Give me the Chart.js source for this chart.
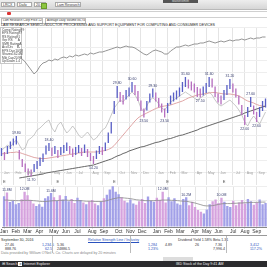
<!DOCTYPE html>
<html>
<head>
<meta charset="utf-8">
<script src="https://cdn.jsdelivr.net/npm/chart.js@4.4.0/dist/chart.umd.min.js"></script>
<style>
    body { margin: 0; width: 267px; height: 267px; overflow: hidden; background: #fff; position: relative; font-family: "Liberation Sans", Arial, sans-serif; }
    .abs { position: absolute; white-space: nowrap; }
    #barra { left: 0; top: 0; width: 267px; height: 9px; background: linear-gradient(#eeeeee, #d6d6d6); border-bottom: 1px solid #b9b9b9; }
    .caja { position: absolute; top: 2px; height: 5px; background: #fff; border: 1px solid #aaa; font-size: 3.5px; line-height: 5px; color: #333; padding-left: 1px; box-sizing: border-box; overflow: hidden; }
    .linea { position: absolute; left: 0; width: 267px; height: 1px; background: #d0d0d0; }
    .txt { font-size: 4px; line-height: 4px; color: #222; }
    .pestana { border: 1px solid #bbb; padding: 0 1px; font-size: 3px; line-height: 3.6px; color: #333; overflow: hidden; }
    #datos { left: 0; top: 27px; width: 22px; height: 37px; background: #fff; border: 1px solid #c8c8c8; box-sizing: border-box; font-size: 3.2px; line-height: 3.5px; color: #444; padding: 0.5px 1px; }
    #datos div { display: flex; justify-content: space-between; }
    canvas { position: absolute; left: 0; }
    #tabla { left: 0; top: 235px; width: 267px; height: 19px; border-top: 1px solid #999; font-size: 3.6px; color: #333; }
    .azul { color: #2a52be; }
    #tareas { left: 0; top: 261px; width: 267px; height: 6px; background: #2b2b2e; color: #eee; font-size: 3.6px; line-height: 6px; }
</style>
</head>
<body>

<!-- barra de herramientas -->
<div id="barra" class="abs">
    <span class="caja" style="left:1px;width:14px">LRCX</span>
    <span class="caja" style="left:17px;width:15px">Daily</span>
    <span class="caja" style="left:34px;width:12px">20 min</span>
    <span class="abs" style="left:41px;top:3px;width:4px;height:4px;background:#8cc63f;border:1px solid #6a9a2c"></span>
    <span class="caja" style="left:55px;width:26px">Lam Research ▾</span>
    <span class="abs" style="left:163px;top:0;width:35px;height:3px;background:#555;color:#ddd;font-size:3px;line-height:3px;text-align:center">MarketSmith</span>
</div>
<div class="linea" style="top:11px"></div>
<div class="linea" style="top:17px"></div>
<span class="abs" style="left:7px;top:12px;width:4px;height:3px;background:#d33;border-radius:1px"></span>
<span class="abs pestana" style="left:1px;top:18px;width:38px">Lam Research Corp  Price 128.51 Vol 3.1M</span>
<span class="abs pestana" style="left:45px;top:18px;width:37px">Average Daily Volume 86,706,728</span>
<span class="abs txt" style="left:1px;top:23px;font-size:3.6px">LAM RESEARCH  SEMICONDUCTOR PROCESSING AND SUPPORT EQUIPMENT FOR COMPUTING AND CONSUMER DEVICES</span>

<canvas id="graficoPrecio" width="267" height="158" style="top:27px"></canvas>
<canvas id="graficoVolumen" width="267" height="49" style="top:186px"></canvas>

<!-- recuadro de datos -->
<div id="datos" class="abs">
    <div><span>Comp Rating</span><span>99</span></div>
    <div><span>EPS Rating</span><span>97</span></div>
    <div><span>RS Rating</span><span>91</span></div>
    <div><span>Grp RS</span><span>A</span></div>
    <div><span>SMR Rating</span><span>A</span></div>
    <div><span>Acc/Dis</span><span>B-</span></div>
    <div><span>EPS Due</span><span>10/18</span></div>
    <div><span>Shares</span><span>162.4M</span></div>
    <div><span>Mkt Cap</span><span>20.9B</span></div>
    <div><span>Up/Down</span><span>1.4</span></div>
</div>

<!-- tabla inferior -->
<div id="tabla" class="abs">
    <span class="abs" style="left:1px;top:2px">September 30, 2016</span>
    <span class="abs azul" style="left:88px;top:2px;text-decoration:underline">Relative Strength Line / Industry</span>
    <span class="abs" style="left:178px;top:2px">Dividend Yield 1.58%  Beta 1.31</span>
    <span class="abs" style="left:5px;top:7px">27.46</span>
    <span class="abs azul" style="left:42px;top:7px">1,234.5</span>
    <span class="abs" style="left:57px;top:7px">5.36</span>
    <span class="abs azul" style="left:148px;top:7px">1,284</span>
    <span class="abs" style="left:165px;top:7px">4.89</span>
    <span class="abs" style="left:195px;top:7px">26</span>
    <span class="abs" style="left:215px;top:7px">7.36</span>
    <span class="abs azul" style="left:250px;top:7px">3,412</span>
    <span class="abs" style="left:5px;top:11px">888.76</span>
    <span class="abs azul" style="left:45px;top:11px">62.5</span>
    <span class="abs" style="left:57px;top:11px">24886.5</span>
    <span class="abs azul" style="left:148px;top:11px">1.23%</span>
    <span class="abs" style="left:213px;top:11px">7,996.4</span>
    <span class="abs azul" style="left:250px;top:11px">117.2%</span>
    <span class="abs" style="left:52px;top:0;width:1px;height:17px;background:#bbb"></span>
    <span class="abs" style="left:130px;top:0;width:1px;height:17px;background:#bbb"></span>
    <span class="abs" style="left:226px;top:0;width:1px;height:17px;background:#bbb"></span>
    <span class="abs" style="left:1px;top:15px;color:#888">Data provided by William O'Neil + Co. Charts are delayed by 20 minutes</span>
</div>
<span class="abs" style="left:163px;top:257px;width:30px;height:4px;background:#ddd"></span>
<div id="tareas" class="abs">
    <span style="padding-left:2px">⊞ Search</span>
    <span style="background:#fff;color:#222;padding:0 1px">e</span>
    <span>Internet Explorer</span>
    <span style="position:absolute;left:176px">IBD Stock of the Day  9:41 AM</span>
</div>

<script>
// =========================
// DATOS
// =========================
const fechas = [
    '1/8','1/15','1/22','1/29','2/5','2/12','2/19','2/26','3/4','3/11','3/18','3/25',
    '4/1','4/8','4/15','4/22','4/29','5/6','5/13','5/20','5/27','6/3','6/10','6/17','6/24',
    '7/1','7/8','7/15','7/22','7/29','8/5','8/12','8/19','8/26','9/2','9/9','9/16','9/23','9/30',
    '10/7','10/14','10/21','10/28','11/4','11/11','11/18','11/25','12/2','12/9','12/16','12/23','12/30',
    '1/6','1/13','1/20','1/27','2/3','2/10','2/17','2/24','3/3','3/10','3/17','3/24','3/31',
    '4/7','4/14','4/21','4/28','5/5','5/12','5/19','5/26','6/2','6/9','6/16','6/23','6/30',
    '7/7','7/14','7/21','7/28','8/4','8/11','8/18','8/25','9/1','9/8','9/15','9/22'
];
const meses = ['Jan','Feb','Mar','Apr','May','Jun','Jul','Aug','Sep','Oct','Nov','Dec'];

const altos = [
    17.4, 16.6, 17.8, 18.7, 19.3, 19.8, 17.0, 15.2, 14.3, 13.3,
    13.1, 14.2, 14.8, 15.5, 16.3, 17.9, 18.4, 17.5, 17.8, 17.0,
    17.6, 18.0, 18.5, 17.8, 17.3, 17.6, 18.0, 17.4, 18.1, 17.2,
    16.4, 15.8, 16.9, 17.8, 17.6, 18.5, 20.5, 22.6, 26.8, 29.8,
    28.6, 28.0, 29.0, 29.5, 30.6, 30.0, 28.8, 26.9, 25.3, 26.8,
    28.3, 29.3, 28.5, 27.4, 26.3, 25.3, 26.4, 27.9, 28.5, 28.9,
    29.5, 30.6, 31.6, 31.1, 30.7, 30.3, 29.6, 29.3, 29.7, 30.4,
    31.6, 31.3, 29.7, 28.3, 27.9, 29.0, 30.0, 31.2, 30.3, 29.3,
    27.9, 26.0, 24.0, 25.6, 27.6, 25.9, 24.6, 25.6, 26.8, 27.3
];
const bajos = [
    15.8, 15.0, 16.2, 17.2, 17.9, 18.1, 15.1, 13.6, 12.6, 11.9,
    11.7, 12.6, 13.2, 13.8, 14.6, 16.1, 16.8, 15.8, 16.2, 15.4,
    16.0, 16.4, 16.8, 16.2, 15.6, 16.0, 16.4, 15.8, 16.4, 15.6,
    14.8, 14.2, 15.2, 16.2, 16.0, 16.8, 18.4, 20.3, 24.2, 27.4,
    26.6, 26.1, 27.1, 27.7, 28.6, 28.0, 26.8, 24.8, 23.5, 24.9,
    26.5, 27.5, 26.7, 25.5, 24.5, 23.5, 24.4, 26.1, 26.7, 27.1,
    27.7, 28.6, 29.6, 29.3, 28.9, 28.5, 27.6, 27.5, 27.9, 28.4,
    29.6, 29.5, 27.6, 26.5, 26.1, 27.0, 28.0, 29.2, 28.5, 27.5,
    26.1, 24.0, 22.0, 23.6, 25.6, 24.1, 22.6, 23.6, 24.8, 25.5
];
const media50 = [
    16.2, 16.3, 16.4, 16.5, 16.5, 16.6, 16.5, 16.3, 16.1, 15.9,
    15.7, 15.5, 15.4, 15.3, 15.3, 15.3, 15.4, 15.5, 15.6, 15.7,
    15.8, 15.9, 16.0, 16.1, 16.2, 16.3, 16.4, 16.5, 16.6, 16.6,
    16.6, 16.6, 16.6, 16.7, 16.8, 16.9, 17.1, 17.4, 17.9, 18.6,
    19.3, 20.0, 20.7, 21.4, 22.1, 22.8, 23.4, 23.8, 24.1, 24.4,
    24.7, 25.0, 25.3, 25.5, 25.7, 25.8, 25.9, 26.0, 26.2, 26.4,
    26.6, 26.8, 27.1, 27.4, 27.6, 27.8, 28.0, 28.1, 28.2, 28.3,
    28.4, 28.5, 28.5, 28.4, 28.3, 28.2, 28.2, 28.2, 28.1, 28.0,
    27.8, 27.5, 27.1, 26.8, 26.6, 26.4, 26.1, 25.9, 25.8, 25.7
];
const media200 = [
    null, null, null, null, null, null, 11.4, 11.5, 11.6, 11.7,
    11.8, 11.9, 12.0, 12.1, 12.2, 12.4, 12.5, 12.6, 12.7, 12.8,
    12.9, 13.0, 13.1, 13.2, 13.3, 13.4, 13.5, 13.6, 13.7, 13.8,
    13.9, 14.0, 14.2, 14.4, 14.6, 14.8, 15.0, 15.2, 15.5, 15.8,
    16.0, 16.3, 16.5, 16.8, 17.0, 17.2, 17.4, 17.6, 17.7, 17.9,
    18.1, 18.3, 18.5, 18.6, 18.8, 19.0, 19.2, 19.3, 19.5, 19.7,
    19.9, 20.0, 20.2, 20.4, 20.6, 20.8, 21.0, 21.3, 21.5, 21.7,
    21.9, 22.1, 22.3, 22.5, 22.7, 22.9, 23.1, 23.3, 23.5, 23.7,
    23.9, 24.1, 24.4, 24.6, 24.8, 25.0, 25.2, 25.4, 25.6, 25.8
];
// índice del sector (línea gris fina)
const indiceSector = [
    17.0, 17.4, 18.0, 17.6, 18.4, 19.0, 18.0, 17.0, 17.4, 19.0,
    19.4, 20.0, 21.0, 21.4, 22.0, 22.6, 23.0, 21.4, 20.6, 22.0,
    22.6, 21.4, 20.4, 21.0, 21.8, 21.0, 20.0, 19.4, 20.0, 20.6,
    19.8, 19.0, 19.4, 20.2, 21.0, 21.4, 22.6, 24.0, 25.4, 26.2,
    27.0, 26.6, 27.4, 28.0, 28.6, 28.0, 27.0, 25.4, 24.6, 25.8,
    27.0, 27.4, 27.0, 26.2, 25.4, 25.0, 25.8, 26.6, 27.0, 27.4,
    27.8, 28.2, 28.6, 28.2, 27.8, 27.4, 27.0, 27.4, 27.8, 28.2,
    28.6, 28.0, 27.0, 26.2, 25.8, 26.2, 26.6, 27.0, 26.4, 25.8,
    25.0, 24.0, 22.6, 21.8, 23.0, 23.8, 23.0, 22.2, 23.4, 24.6
];
// línea de fuerza relativa
const lineaRS = [
    null, null, null, null, null, null, 35.4, 35.2, 34.6, 33.8,
    33.0, 32.2, 32.8, 33.8, 34.4, 34.6, 35.0, 34.8, 35.2, 35.0,
    35.4, 35.6, 35.4, 35.8, 35.6, 36.0, 35.8, 36.0, 36.2, 36.0,
    36.4, 36.2, 36.4, 36.6, 36.6, 36.8, 37.0, 37.2, 37.4, 37.6,
    37.4, 37.6, 37.8, 37.6, 37.6, 37.4, 37.0, 36.6, 36.2, 36.0,
    36.4, 36.8, 37.0, 36.8, 36.6, 36.2, 36.2, 36.8, 37.2, 37.6,
    37.6, 37.8, 38.0, 37.8, 38.0, 38.2, 38.2, 38.4, 38.4, 38.6,
    38.8, 38.6, 38.4, 38.6, 38.8, 38.6, 38.8, 39.0, 38.8, 39.0,
    39.0, 39.2, 39.0, 39.2, 39.4, 39.2, 39.4, 39.4, 39.6, 39.6
];
// volumen en millones
const volumen = [
    10.5, 11.8, 8.5, 9.0, 7.8, 8.2, 9.5, 12.0, 10.8, 9.2,
    8.0, 7.2, 7.8, 6.9, 9.8, 10.5, 11.6, 10.2, 9.0, 10.8,
    9.4, 10.6, 8.8, 9.6, 8.2, 10.0, 9.2, 8.4, 7.8, 8.8,
    9.2, 8.0, 7.4, 8.6, 9.8, 11.0, 12.8, 13.9, 12.0, 11.2,
    10.2, 9.0, 8.4, 9.4, 8.0, 7.6, 8.8, 9.6, 8.2, 10.4,
    9.0, 8.6, 10.0, 9.2, 12.0, 8.4, 10.2, 8.8, 9.8, 8.0,
    7.6, 9.6, 10.2, 7.4, 8.6, 6.8, 5.8, 5.2, 4.6, 6.0,
    7.8, 8.8, 9.4, 8.2, 10.0, 8.6, 7.2, 6.8, 9.0, 7.4,
    8.4, 9.2, 8.0, 9.6, 8.8, 7.6, 8.4, 9.4, 7.8, 8.2
];
const volumenMedio = [
    9.2, 9.2, 9.1, 9.1, 9.0, 9.0, 9.0, 9.1, 9.1, 9.1,
    9.0, 8.9, 8.8, 8.7, 8.7, 8.8, 8.9, 9.0, 9.0, 9.1,
    9.1, 9.2, 9.1, 9.1, 9.0, 9.0, 9.0, 8.9, 8.8, 8.8,
    8.8, 8.7, 8.7, 8.7, 8.8, 9.0, 9.3, 9.6, 9.8, 10.0,
    10.0, 9.9, 9.8, 9.7, 9.5, 9.3, 9.2, 9.1, 9.0, 9.0,
    9.0, 9.0, 9.1, 9.1, 9.2, 9.2, 9.2, 9.1, 9.1, 9.0,
    8.9, 8.8, 8.8, 8.6, 8.4, 8.2, 7.9, 7.6, 7.3, 7.2,
    7.2, 7.3, 7.5, 7.7, 7.9, 8.0, 8.0, 8.0, 8.1, 8.1,
    8.2, 8.2, 8.3, 8.3, 8.4, 8.4, 8.4, 8.5, 8.5, 8.5
];
// índices con etiqueta de precio
const marcasAltos = [5, 16, 39, 44, 51, 62, 70, 77, 84];
const marcasBajos = [10, 31, 48, 55, 67, 82, 86];
const marcasVolumen = [1, 7, 16, 37, 54, 62, 74];
const marcasGanancias = [1, 19, 38, 56, 75];

// =========================
// AYUDAS
// =========================
const subida = (i) => i === 0 || (altos[i] + bajos[i]) >= (altos[i - 1] + bajos[i - 1]);
const inicioMes = (i) => i === 0 || fechas[i].split('/')[0] !== fechas[i - 1].split('/')[0];

const gridVertical = {
    color: (ctx) => (ctx.tick && inicioMes(ctx.index)) ? '#e4e4e4' : 'rgba(0,0,0,0)',
    drawTicks: false,
    offset: false
};

// etiquetas pequeñas sobre el gráfico de precio
const etiquetasPrecio = {
    id: 'etiquetasPrecio',
    afterDatasetsDraw(chart) {
        const { ctx, scales: { x, y }, chartArea } = chart;
        ctx.save();
        ctx.font = '3.5px "Liberation Sans"';
        ctx.textAlign = 'center';
        ctx.fillStyle = '#3a4070';
        marcasAltos.forEach(i => {
            ctx.fillText(altos[i].toFixed(2), x.getPixelForValue(i), y.getPixelForValue(altos[i]) - 2);
        });
        marcasBajos.forEach(i => {
            ctx.fillText(bajos[i].toFixed(2), x.getPixelForValue(i), y.getPixelForValue(bajos[i]) + 4.5);
        });
        // fila de meses en gris
        ctx.fillStyle = '#a0a0a0';
        fechas.forEach((f, i) => {
            if (inicioMes(i)) ctx.fillText('◦ ' + meses[+f.split('/')[0] - 1], x.getPixelForValue(i) + 4, chartArea.bottom - 11);
        });
        // marcas de ganancias
        ctx.fillStyle = '#555';
        ctx.font = '4px "Liberation Sans"';
        marcasGanancias.forEach(i => {
            ctx.fillText('E', x.getPixelForValue(i), chartArea.bottom - 2);
        });
        ctx.restore();
    }
};

const etiquetasVolumen = {
    id: 'etiquetasVolumen',
    afterDatasetsDraw(chart) {
        const { ctx, scales: { x, y } } = chart;
        ctx.save();
        ctx.font = '3.5px "Liberation Sans"';
        ctx.textAlign = 'center';
        ctx.fillStyle = '#3a4070';
        marcasVolumen.forEach(i => {
            ctx.fillText(volumen[i].toFixed(1) + 'M', x.getPixelForValue(i), y.getPixelForValue(volumen[i]) - 1.5);
        });
        ctx.restore();
    }
};

// ============ GRÁFICO PRECIO ============
new Chart(document.getElementById('graficoPrecio'), {
    type: 'bar',
    data: {
        labels: fechas,
        datasets: [
            { type: 'line', data: lineaRS, borderColor: '#7a7a7a', borderWidth: 0.8, pointRadius: 0, order: 1 },
            { type: 'line', data: indiceSector, borderColor: '#b0b0b0', borderWidth: 0.7, pointRadius: 0, order: 4 },
            { type: 'line', data: media200, borderColor: '#555555', borderWidth: 0.9, pointRadius: 0, order: 2 },
            { type: 'line', data: media50, borderColor: '#dc9c9c', borderWidth: 0.9, pointRadius: 0, order: 3 },
            {
                data: altos.map((a, i) => [bajos[i], a]),
                backgroundColor: altos.map((a, i) => subida(i) ? '#5a60c6' : '#b66fbf'),
                barPercentage: 0.45,
                categoryPercentage: 1,
                order: 0
            }
        ]
    },
    options: {
        responsive: false,
        animation: false,
        layout: { padding: 0 },
        plugins: { legend: { display: false }, tooltip: { enabled: false } },
        scales: {
            x: { ticks: { display: false, autoSkip: false }, grid: gridVertical, border: { display: false } },
            y: {
                min: 10, max: 41.6,
                ticks: { display: false, stepSize: 2.5 },
                grid: { color: '#eeeeee', drawTicks: false },
                border: { display: false }
            }
        }
    },
    plugins: [etiquetasPrecio]
});

// ============ GRÁFICO VOLUMEN ============
new Chart(document.getElementById('graficoVolumen'), {
    type: 'bar',
    data: {
        labels: fechas,
        datasets: [
            { type: 'line', data: volumenMedio, borderColor: '#8a8a8a', borderWidth: 0.8, pointRadius: 0, order: 0 },
            {
                data: volumen,
                backgroundColor: volumen.map((v, i) => subida(i) ? '#a2a0e8' : '#d6a2de'),
                barPercentage: 0.8,
                categoryPercentage: 1,
                order: 1
            }
        ]
    },
    options: {
        responsive: false,
        animation: false,
        layout: { padding: 0 },
        plugins: { legend: { display: false }, tooltip: { enabled: false } },
        scales: {
            x: {
                ticks: {
                    autoSkip: false, maxRotation: 0, padding: 0,
                    font: { size: 5, family: 'Liberation Sans' }, color: '#333',
                    callback: (v, i) => inicioMes(i) ? meses[+fechas[i].split('/')[0] - 1] : ''
                },
                grid: { color: (ctx) => (ctx.tick && inicioMes(ctx.index)) ? '#e4e4e4' : 'rgba(0,0,0,0)', tickLength: 2, offset: false },
                border: { color: '#888' }
            },
            y: {
                min: 0, max: 14,
                ticks: { display: false, stepSize: 3 },
                grid: { color: '#eeeeee', drawTicks: false },
                border: { display: false }
            }
        }
    },
    plugins: [etiquetasVolumen]
});
</script>
</body>
</html>
